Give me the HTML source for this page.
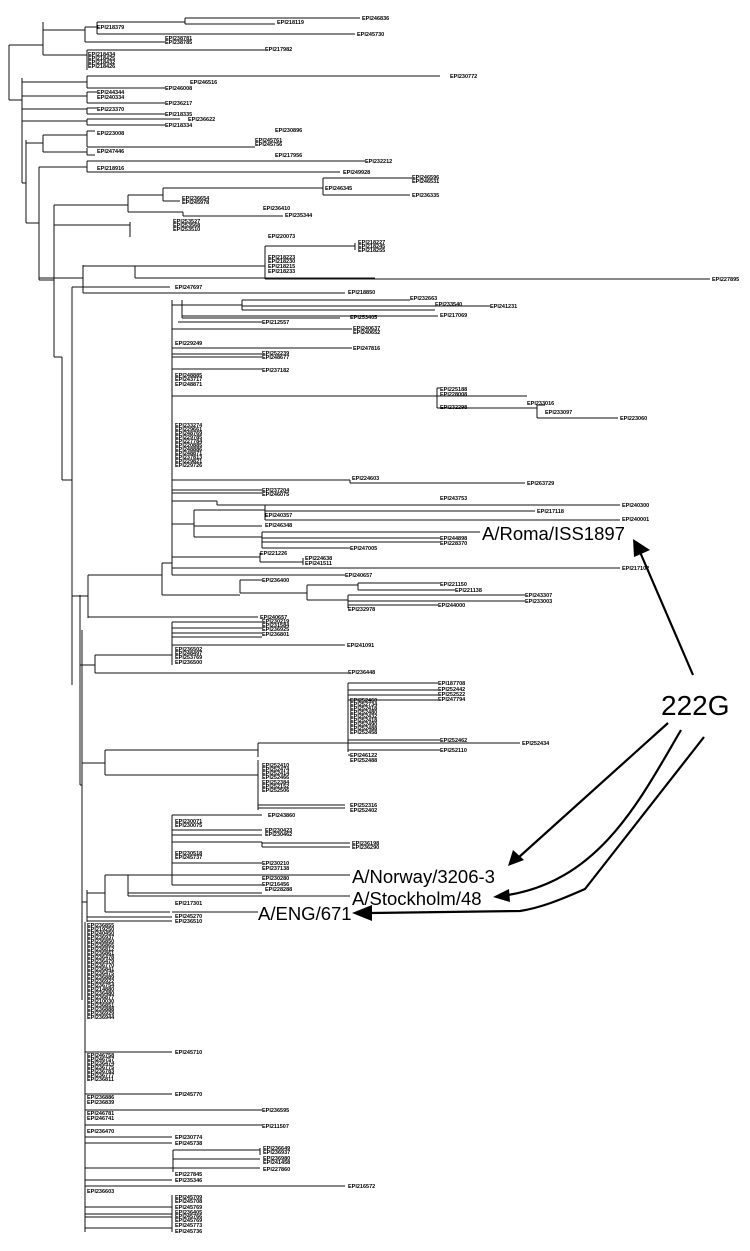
<!DOCTYPE html>
<html><head><meta charset="utf-8"><style>
html,body{margin:0;padding:0;background:#fff;}
svg{display:block;}
.s{font-family:"Liberation Sans",sans-serif;font-size:5.5px;font-weight:bold;fill:#000;}
.b{font-family:"Liberation Sans",sans-serif;font-size:18.5px;fill:#000;}
</style></head><body>
<svg width="750" height="1251" viewBox="0 0 750 1251" xmlns="http://www.w3.org/2000/svg">
<g stroke="#111" stroke-width="1" fill="none">
<path d="M9 45V100M9 45H43M43 22V55M43 30H85M85 27V42M85 27H97M97 22V34M97 22H185M185 18V24M185 18H360M185 24H275M97 34H355M85 42H165M43 55H87M87 50V70"/>
<path d="M87 50H265M9 100H22M22 78V183"/>
<path d="M22 82H87M87 76V88M87 76H440M87 88H165"/>
<path d="M22 96H87M87 92V103M87 92H97M87 103H165"/>
<path d="M22 109H87M87 108V114M87 108H97M87 114H165"/>
<path d="M22 121H87M87 119V125M87 119H180M87 125H165"/>
<path d="M22 183H26M26 140V223M26 143H43M43 135V152M43 135H87M87 131V147M87 131H95M87 147H255M43 152H87M87 148V155M87 155H95"/>
<path d="M26 223H39M39 167V280M39 167H87M87 161V172M87 161H365M87 172H340"/>
<path d="M39 280H54M54 205V357M54 205H128M128 195V212M128 195H163M163 188V201M163 188H323M323 178V195M323 178H412M323 195H410M163 201H180M128 212H183M183 212V216M183 216H283"/>
<path d="M54 225H130M130 222V237"/>
<path d="M39 278H83M83 265V293M83 266H135M135 266V278M135 266H265M265 246V279M265 246H355M355 243V250M265 279H710M135 278H375M83 287H170M83 293H170M170 293H345"/>
<path d="M54 357H62M62 357V480M62 480H72M72 287V685M72 287H83"/>
<path d="M72 596H80M80 595V785M80 596H88M88 575V618M88 575H162M162 563V595M162 563H172M172 300V575"/>
<path d="M182 300V318M172 305H182M182 305H242M242 300V310M242 300H410M242 306H490M242 310H435M182 316H438M182 318H340M178 322H262M172 329H352M172 348H352M172 354H262M172 357H262M172 369H262M172 396H437M437 388V408M437 388H440M437 396H527M437 408H537M537 405V418M537 405H545M537 418H618"/>
<path d="M172 480H350M350 480V483M350 483H525M172 490H262M172 493H262M172 501H217M217 501V505M217 505H438"/>
<path d="M172 524H194M194 510V537M194 510H265M265 505V520M265 505H620M265 511H535M265 520H620M194 526H262M194 537H262M262 532V548M262 532H480M262 538H440M262 542H440M262 548H350"/>
<path d="M172 557H260M260 553V562M260 562H303M303 558V565M172 568H620M172 575H345"/>
<path d="M162 595H240M240 580V593M240 580H262M240 593H307M307 585V600M307 585H358M358 583V590M358 583H440M358 590H455M307 600H348M348 595V608M348 595H525M348 601H525M348 605H438M88 617H258"/>
<path d="M80 665H95M95 655V673M95 655H172M172 622V665M172 622H262M172 628H262M172 633H262M172 637H262M172 645H345M95 673H348"/>
<path d="M80 785H82M82 630V1000M82 763H105M105 750V775M105 750H258M258 743V757M258 743H348M348 683V752M348 683H438M348 690H438M348 695H438M348 700H438M348 740H440M348 743H520M348 750H440M348 755H350M105 775H258M258 760V810M258 805H345M258 808H345"/>
<path d="M82 902H87M87 890V922M87 893H105M105 875V912M105 875H128M128 875V896M128 875H172M172 815V885M172 815H262M172 830H262M172 835H262M172 842H262M262 842V847M262 843H350M262 847H350M172 863H262M172 875H350M172 885H262M128 893H262M128 896H350M105 912H170M172 912H258M87 917H172M87 921H172"/>
<path d="M85 922V1232M85 1052H172M85 1094H172M85 1110H262M85 1125H262M85 1137H172M85 1143H172M85 1168H173M173 1150V1172M173 1150H260M260 1148V1155M173 1159H260M173 1168H260M85 1180H172M85 1186H345M85 1207H172M85 1214H172M85 1217H172M85 1228H172M172 1195V1232"/>
</g>
<g class="s">
<text x="362" y="20">EPI246836</text><text x="277" y="24">EPI218119</text><text x="97" y="29">EPI218379</text><text x="357" y="36">EPI245730</text>
<text x="165" y="40">EPI238781</text><text x="165" y="44">EPI238785</text><text x="265" y="51">EPI217982</text>
<text x="88" y="56">EPI218434</text><text x="88" y="60">EPI218425</text><text x="88" y="64">EPI218432</text><text x="88" y="68">EPI218426</text>
<text x="450" y="78">EPI230772</text><text x="190" y="84">EPI246516</text><text x="165" y="90">EPI246008</text>
<text x="97" y="94">EPI244344</text><text x="97" y="99">EPI240334</text><text x="165" y="105">EPI236217</text>
<text x="97" y="111">EPI223370</text><text x="165" y="116">EPI218335</text><text x="188" y="121">EPI236622</text><text x="165" y="127">EPI218334</text>
<text x="275" y="132">EPI230896</text><text x="97" y="135">EPI223008</text><text x="255" y="142">EPI245761</text><text x="255" y="146">EPI245756</text>
<text x="97" y="153">EPI247446</text><text x="275" y="157">EPI217956</text><text x="365" y="163">EPI232212</text>
<text x="97" y="170">EPI218916</text><text x="343" y="174">EPI249928</text><text x="412" y="179">EPI246596</text><text x="412" y="183">EPI246531</text>
<text x="325" y="190">EPI246345</text><text x="412" y="197">EPI236335</text><text x="182" y="200">EPI236654</text><text x="182" y="204">EPI245978</text>
<text x="263" y="210">EPI236410</text><text x="285" y="217">EPI235344</text>
<text x="173" y="223">EPI253527</text><text x="173" y="227">EPI253568</text><text x="173" y="231">EPI253510</text>
<text x="268" y="238">EPI220073</text><text x="358" y="244">EPI218227</text><text x="358" y="248">EPI218245</text><text x="358" y="252">EPI218255</text>
<text x="268" y="259">EPI218223</text><text x="268" y="263">EPI218230</text><text x="268" y="268">EPI218215</text><text x="268" y="273">EPI218233</text>
<text x="712" y="281">EPI227895</text><text x="175" y="289">EPI247697</text><text x="348" y="294">EPI218850</text>
<text x="410" y="300">EPI232663</text><text x="435" y="306">EPI233540</text><text x="490" y="308">EPI241231</text><text x="440" y="317">EPI217069</text>
<text x="350" y="319">EPI253405</text><text x="262" y="324">EPI212557</text><text x="353" y="330">EPI240637</text><text x="353" y="334">EPI240652</text>
<text x="175" y="345">EPI229249</text><text x="353" y="350">EPI247816</text><text x="262" y="355">EPI252239</text><text x="262" y="359">EPI248677</text>
<text x="262" y="372">EPI237182</text>
<text x="175" y="377">EPI248885</text><text x="175" y="381">EPI243717</text><text x="175" y="386">EPI248871</text>
<text x="440" y="391">EPI225188</text><text x="440" y="396">EPI228008</text><text x="527" y="405">EPI233016</text><text x="440" y="409">EPI232298</text><text x="545" y="414">EPI233097</text><text x="620" y="420">EPI223060</text>
<text x="175" y="427">EPI233274</text><text x="175" y="431">EPI229661</text><text x="175" y="435">EPI248769</text><text x="175" y="439">EPI229785</text><text x="175" y="443">EPI227784</text><text x="175" y="447">EPI220885</text><text x="175" y="451">EPI248886</text><text x="175" y="455">EPI248871</text><text x="175" y="459">EPI237813</text><text x="175" y="463">EPI229821</text><text x="175" y="467">EPI229726</text>
<text x="352" y="480">EPI224603</text><text x="527" y="485">EPI263729</text><text x="262" y="492">EPI237204</text><text x="262" y="496">EPI246075</text>
<text x="440" y="500">EPI243753</text><text x="622" y="507">EPI240300</text><text x="537" y="513">EPI217118</text><text x="265" y="517">EPI240357</text>
<text x="622" y="521">EPI240001</text><text x="265" y="527">EPI246348</text><text x="440" y="540">EPI244898</text><text x="440" y="545">EPI228370</text>
<text x="350" y="550">EPI247005</text><text x="260" y="555">EPI221226</text><text x="305" y="560">EPI224638</text><text x="305" y="565">EPI241511</text>
<text x="622" y="570">EPI217102</text><text x="345" y="577">EPI240657</text>
<text x="262" y="582">EPI236400</text><text x="440" y="586">EPI221150</text><text x="455" y="592">EPI221138</text><text x="525" y="597">EPI243307</text><text x="525" y="603">EPI233003</text><text x="438" y="607">EPI244000</text><text x="348" y="611">EPI232978</text>
<text x="260" y="619">EPI240657</text><text x="262" y="623">EPI230219</text><text x="262" y="627">EPI231584</text><text x="262" y="631">EPI236925</text><text x="262" y="636">EPI236801</text>
<text x="347" y="647">EPI241091</text><text x="175" y="651">EPI236502</text><text x="175" y="655">EPI248497</text><text x="175" y="659">EPI253769</text><text x="175" y="664">EPI236500</text><text x="348" y="674">EPI236448</text>
<text x="438" y="685">EPI187708</text><text x="438" y="691">EPI252442</text><text x="438" y="696">EPI252522</text><text x="438" y="701">EPI247794</text>
<text x="350" y="702">EPI252460</text><text x="350" y="706">EPI252734</text><text x="350" y="710">EPI252418</text><text x="350" y="714">EPI252480</text><text x="350" y="718">EPI252432</text><text x="350" y="722">EPI252418</text><text x="350" y="726">EPI252490</text><text x="350" y="730">EPI252488</text><text x="350" y="734">EPI252458</text>
<text x="440" y="742">EPI252462</text><text x="522" y="745">EPI252434</text><text x="440" y="752">EPI252110</text><text x="350" y="757">EPI246122</text><text x="350" y="762">EPI252488</text>
<text x="262" y="767">EPI252410</text><text x="262" y="771">EPI252474</text><text x="262" y="775">EPI252414</text><text x="262" y="779">EPI252466</text><text x="262" y="784">EPI252384</text><text x="262" y="788">EPI252152</text><text x="262" y="792">EPI252506</text>
<text x="350" y="807">EPI252316</text><text x="350" y="812">EPI252402</text><text x="268" y="817">EPI243860</text>
<text x="175" y="823">EPI230071</text><text x="175" y="827">EPI230075</text><text x="265" y="832">EPI230423</text><text x="265" y="836">EPI230462</text>
<text x="352" y="845">EPI236198</text><text x="352" y="849">EPI236290</text><text x="175" y="855">EPI230518</text><text x="175" y="859">EPI245737</text>
<text x="262" y="865">EPI230210</text><text x="262" y="870">EPI237138</text><text x="262" y="880">EPI230280</text><text x="262" y="886">EPI216456</text><text x="265" y="891">EPI228288</text>
<text x="175" y="905">EPI217301</text><text x="175" y="918">EPI245270</text><text x="175" y="923">EPI236510</text>
<text x="87" y="927">EPI236855</text><text x="87" y="931">EPI219250</text><text x="87" y="935">EPI240450</text><text x="87" y="939">EPI236937</text><text x="87" y="943">EPI236850</text><text x="87" y="947">EPI236865</text><text x="87" y="951">EPI236812</text><text x="87" y="955">EPI236861</text><text x="87" y="959">EPI236478</text><text x="87" y="963">EPI236479</text><text x="87" y="967">EPI236770</text><text x="87" y="971">EPI236841</text><text x="87" y="975">EPI236475</text><text x="87" y="979">EPI236889</text><text x="87" y="983">EPI236922</text><text x="87" y="987">EPI236754</text><text x="87" y="991">EPI214880</text><text x="87" y="995">EPI236480</text><text x="87" y="999">EPI236877</text><text x="87" y="1003">EPI210030</text><text x="87" y="1007">EPI236851</text><text x="87" y="1011">EPI236888</text><text x="87" y="1015">EPI236929</text><text x="87" y="1019">EPI236944</text>
<text x="175" y="1054">EPI245710</text>
<text x="87" y="1057">EPI246758</text><text x="87" y="1061">EPI246757</text><text x="87" y="1065">EPI236474</text><text x="87" y="1069">EPI236775</text><text x="87" y="1073">EPI236783</text><text x="87" y="1077">EPI236777</text><text x="87" y="1081">EPI236811</text>
<text x="175" y="1096">EPI245770</text><text x="87" y="1099">EPI236886</text><text x="87" y="1104">EPI236839</text><text x="262" y="1112">EPI236595</text>
<text x="87" y="1115">EPI246781</text><text x="87" y="1120">EPI246741</text><text x="262" y="1128">EPI211507</text><text x="87" y="1133">EPI236470</text>
<text x="175" y="1139">EPI230774</text><text x="175" y="1145">EPI245738</text><text x="263" y="1150">EPI236649</text><text x="263" y="1154">EPI236937</text>
<text x="263" y="1160">EPI236980</text><text x="263" y="1164">EPI241458</text><text x="263" y="1171">EPI227860</text><text x="175" y="1176">EPI227845</text><text x="175" y="1182">EPI235346</text>
<text x="348" y="1188">EPI216572</text><text x="87" y="1193">EPI236603</text>
<text x="175" y="1199">EPI245709</text><text x="175" y="1203">EPI245708</text><text x="175" y="1209">EPI245769</text><text x="175" y="1214">EPI236405</text><text x="175" y="1218">EPI245766</text><text x="175" y="1222">EPI245769</text><text x="175" y="1227">EPI245773</text><text x="175" y="1233">EPI245736</text>
</g>
<text class="b" x="482" y="540">A/Roma/ISS1897</text>
<text class="b" x="352" y="883">A/Norway/3206-3</text>
<text class="b" x="352" y="905">A/Stockholm/48</text>
<text class="b" x="258" y="920">A/ENG/671</text>
<text x="661" y="715" style="font-family:'Liberation Sans',sans-serif;font-size:28px;">222G</text>
<g stroke="#000" stroke-width="2.2" fill="none">
<path d="M693 675L640 552"/>
<path d="M668 723L518 858"/>
<path d="M681 730C640 800 600 880 508 895"/>
<path d="M704 737L585 889C560 900 540 908 520 911L370 913"/>
</g>
<g fill="#000">
<polygon points="633,539 650,550 634,557"/>
<polygon points="508,866 513,850 524,860"/>
<polygon points="493,897 509,889 510,902"/>
<polygon points="352,913 372,905 372,921"/>
</g>
</svg>
</body></html>
